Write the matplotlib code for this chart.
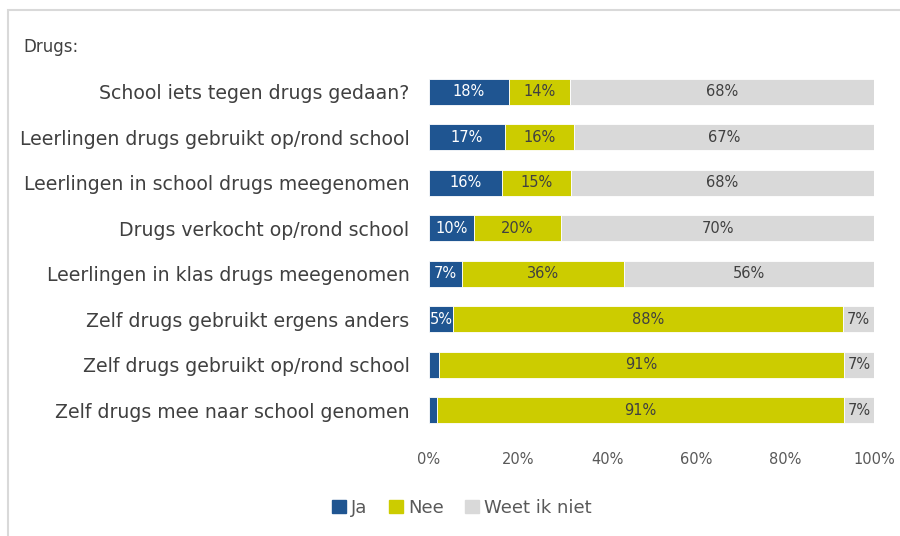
import matplotlib
matplotlib.use("Agg")
import matplotlib.pyplot as plt
from matplotlib.patches import Rectangle
import numpy as np

plt.rcParams['font.family'] = ['DejaVu Sans']

categories = [
    "School iets tegen drugs gedaan?",
    "Leerlingen drugs gebruikt op/rond school",
    "Leerlingen in school drugs meegenomen",
    "Drugs verkocht op/rond school",
    "Leerlingen in klas drugs meegenomen",
    "Zelf drugs gebruikt ergens anders",
    "Zelf drugs gebruikt op/rond school",
    "Zelf drugs mee naar school genomen",
]
ja = [18.0, 17.0, 16.4, 10.0, 7.4, 5.4, 2.2, 1.8]
nee = [13.7, 15.6, 15.5, 19.7, 36.4, 87.6, 91.0, 91.4]
weet = [68.3, 67.4, 68.1, 70.3, 56.2, 7.0, 6.8, 6.8]
ja_labels = ["18%", "17%", "16%", "10%", "7%", "5%", "", ""]
nee_labels = ["14%", "16%", "15%", "20%", "36%", "88%", "91%", "91%"]
weet_labels = ["68%", "67%", "68%", "70%", "56%", "7%", "7%", "7%"]
series_names = ["Ja", "Nee", "Weet ik niet"]
colors = ["#1F5591", "#CCCC00", "#D9D9D9"]
xticks = [0, 20, 40, 60, 80, 100]

W, H = 900, 536
fig = plt.figure(figsize=(9, 5.36), dpi=100)

# outer border
fig.patches.append(Rectangle((8 / W, -0.01), 1.0, (H - 10) / H + 0.01,
                             transform=fig.transFigure, fill=False,
                             edgecolor="#D9D9D9", linewidth=1.5))

ax = fig.add_axes([429 / W, 1 - 433 / H, (874 - 429) / W, (433 - 69) / H])
y = np.arange(len(categories))
h = 0.57
left = np.zeros(len(categories))
for vals, labs, col, name, tc in zip([ja, nee, weet], [ja_labels, nee_labels, weet_labels],
                                    colors, series_names, ["white", "#404040", "#404040"]):
    vals = np.array(vals)
    ax.barh(y, vals, left=left, height=h, color=col, label=name,
            edgecolor="white", linewidth=0.6)
    for yi, (l, v, t) in enumerate(zip(left, vals, labs)):
        if t:
            ax.text(l + v / 2, yi, t, ha="center", va="center", color=tc, fontsize=10.5)
    left = left + vals

ax.set_ylim(len(categories) - 0.5, -0.5)
ax.set_xlim(0, 100)
ax.set_yticks(y)
ax.set_yticklabels(categories, fontsize=13.6, color="#404040")
ax.set_xticks(xticks)
ax.set_xticklabels([f"{v}%" for v in xticks], fontsize=10.5, color="#595959")
ax.tick_params(axis="both", length=0, pad=14)
ax.tick_params(axis="y", pad=14)
for s in ax.spines.values():
    s.set_visible(False)

fig.text(23 / W, 1 - 47 / H, "Drugs:", fontsize=12, color="#404040", va="center", ha="left")

handles = [Rectangle((0, 0), 1, 1, color=c) for c in colors]
fig.legend(handles, series_names, loc="center", bbox_to_anchor=(462 / W, 1 - 508 / H),
           ncol=3, frameon=False, fontsize=13, handlelength=0.75, handleheight=0.75,
           handletextpad=0.3, columnspacing=1.2, labelcolor="#595959")

fig.savefig("out.png", dpi=100)
